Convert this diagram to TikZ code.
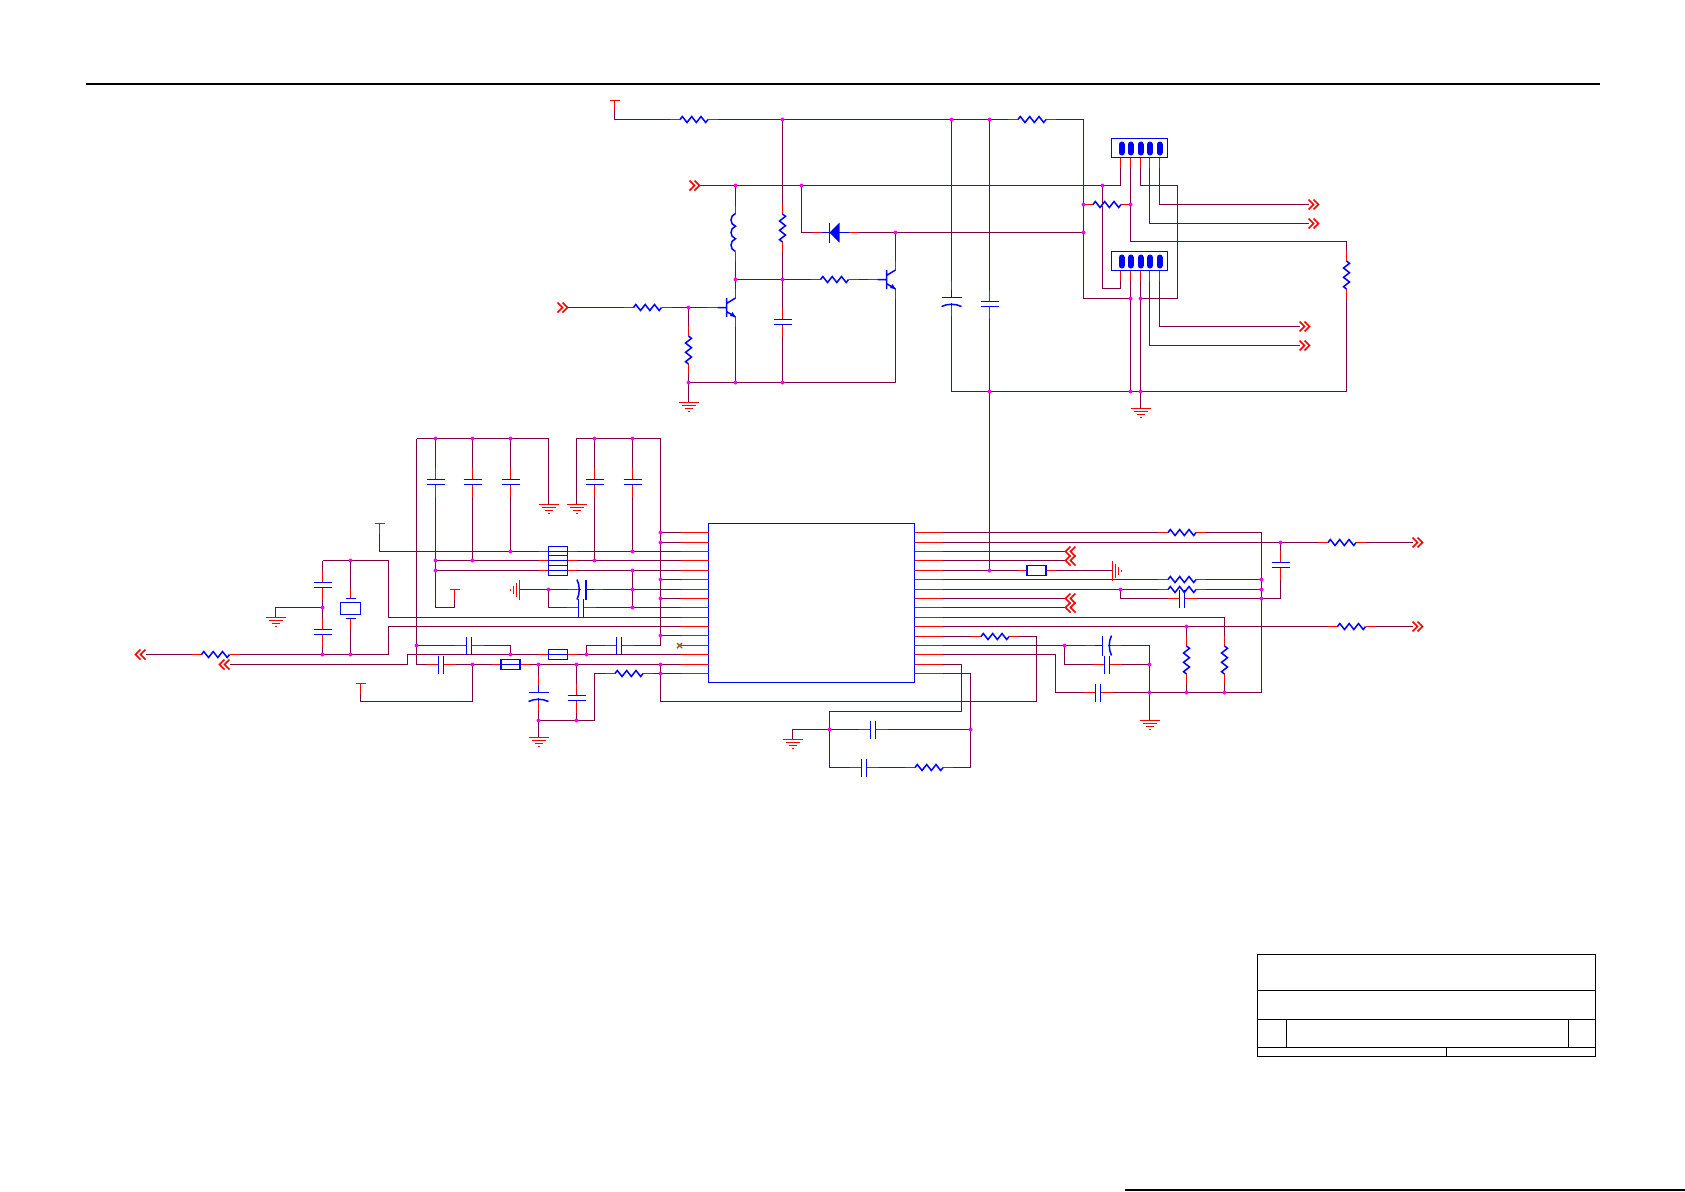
\documentclass[tikz,border=0pt]{standalone}
\definecolor{wirecol}{HTML}{7F0040}
\definecolor{nccol}{HTML}{9A5A20}
\definecolor{dotcol}{HTML}{FF00FF}
\tikzset{
	wire/.style={draw=wirecol, line width=0.72pt, line join=miter},
	stub/.style={draw=red, line width=0.75pt},
	comp/.style={draw=blue, line width=0.75pt},
	frame/.style={draw=black, line width=0.6pt},
	res/.pic={
		\draw[white, line width=1.3pt] (-14,0) -- (14,0);
		\draw[stub] (-24,0) -- (-14,0) (14,0) -- (24,0);
		\draw[comp] (-14,0) -- (-11.7,-3) -- (-7,3) -- (-2.3,-3) -- (2.3,3) -- (7,-3) -- (11.7,3) -- (14,0);
	},
	cap/.pic={
		\draw[white, line width=1.3pt] (-2.5,0) -- (2.5,0);
		\draw[stub] (-14.5,0) -- (-2.5,0) (2.5,0) -- (14.5,0);
		\draw[comp] (-2.5,-9) -- (-2.5,9) (2.5,-9) -- (2.5,9);
	},
	polcap/.pic={
		\draw[white, line width=1.3pt] (-3,0) -- (2,0);
		\draw[stub] (-20,0) -- (-11,0) (5,0) -- (15,0);
		\draw[comp] (-11,0) -- (-3,0) (-3,-10) -- (-3,10) (2,0) -- (5,0);
		\draw[comp] (6,-10) .. controls (3,-4) and (3,4) .. (6,10);
	},
	fuse/.pic={
		\draw[stub] (-19,0) -- (-9.5,0) (9.5,0) -- (19,0);
		\draw[comp, fill=white] (-9.5,-5) rectangle (9.5,5);
		\draw[comp] (-9.5,0) -- (9.5,0);
	},
	fuseopen/.pic={
		\draw[stub] (-19,0) -- (-9.5,0) (9.5,0) -- (19,0);
		\draw[comp, fill=white] (-9.5,-5) rectangle (9.5,5);
	},
	npn/.pic={
		\draw[white, line width=1.3pt] (9,-9.5) -- (9,9.5) (-9,0) -- (0,0);
		\draw[stub] (-19,0) -- (-9,0) (9,-9.5) -- (9,-19) (9,9.5) -- (9,19);
		\draw[comp] (-9,0) -- (0,0) (0,-9.5) -- (0,9.5) (0,-4) -- (9,-9.5) (0,4) -- (9,9.5);
		\fill[blue] (9,9.5) -- (3.5,8.5) -- (6,4.5) -- cycle;
	},
	diode/.pic={
		\draw[white, line width=1.3pt] (-13,0) -- (14,0);
		\draw[stub] (-22,0) -- (-13,0) (14,0) -- (24,0);
		\draw[comp] (-13,0) -- (14,0) (-5,-10) -- (-5,10);
		\fill[blue] (-5,0) -- (5,-10) -- (5,10) -- cycle;
	},
	coil/.pic={
		\draw[white, line width=1.3pt] (0,-19) -- (0,19);
		\draw[stub] (0,-27) -- (0,-19) (0,19) -- (0,28);
		\draw[comp] (0,-19) .. controls (-6,-17) and (-6,-8) .. (0,-6.3) .. controls (-6,-4) and (-6,4) .. (0,6.3) .. controls (-6,8) and (-6,17) .. (0,19);
	},
	xtal/.pic={
		\draw[white, line width=1.3pt] (0,-10) -- (0,10);
		\draw[stub] (0,-20) -- (0,-10) (0,10) -- (0,20);
		\draw[comp] (-5,-10) -- (5,-10) (-5,10) -- (5,10);
		\draw[comp] (-10,-6) rectangle (10,6);
	},
	earth/.pic={
		\draw[stub] (-10,0) -- (10,0) (-7,3) -- (7,3) (-4,6) -- (4,6) (-1,9) -- (1,9);
	},
	vcc/.pic={
		\draw[stub] (-5,0) -- (5,0) (0,0) -- (0,10);
	},
	chev/.pic={
		\draw[stub] (0,-5) -- (5,0) -- (0,5) (5,-5) -- (10,0) -- (5,5);
	},
	header/.pic={
		\draw[comp] (-28,-9.5) rectangle (28,9.5);
		\foreach \px in {-18,-9,1,10.5,20}
			\draw[blue, line width=3pt, line cap=round] (\px,-3.5) -- (\px,4.5);
		\foreach \px in {-19,-9,1,10,20}
			\draw[stub] (\px,9.5) -- (\px,19.5);
	},
}
\begin{document}
\begin{tikzpicture}[x=0.5pt, y=-0.5pt]
	\useasboundingbox (0,0) rectangle (1685,1191);
	\begin{scope}[shift={(0.5,0.5)}]
	% page rules and title block
	\draw[black, line width=1pt] (85,83) -- (1599,83);
	\draw[black, line width=0.8pt] (1124,1189.5) -- (1685,1189.5);
	\draw[frame] (1257,954) rectangle (1595,1056);
	\draw[frame] (1257,990) -- (1595,990) (1257,1019) -- (1595,1019) (1257,1047) -- (1595,1047);
	\draw[frame] (1286,1019) -- (1286,1047) (1568,1019) -- (1568,1047) (1446,1047) -- (1446,1056);

	% switcher section
	\draw[wire] (614,110) -- (614,119) -- (1083,119) -- (1083,298) -- (1130,298);
	\draw[wire] (782,119) -- (782,382);
	\draw[wire] (951,119) -- (951,391) -- (1346,391) -- (1346,241) -- (1130,241) -- (1130,157);
	\draw[wire] (989,119) -- (989,570);
	\draw[wire] (698,185) -- (1120,185) -- (1120,157);
	\draw[wire] (735,185) -- (735,382);
	\draw[wire] (801,185) -- (801,232) -- (1083,232);
	\draw[wire] (895,232) -- (895,382) -- (688,382) -- (688,402);
	\draw[wire] (688,307) -- (688,382);
	\draw[wire] (735,279) -- (886,279);
	\draw[wire] (567,307) -- (726,307);
	\draw[wire] (1102,185) -- (1102,288) -- (1120,288) -- (1120,269);
	\draw[wire] (1083,204) -- (1130,204);
	\draw[wire] (1140,157) -- (1140,185) -- (1177,185) -- (1177,298) -- (1140,298);
	\draw[wire] (1140,269) -- (1140,408);
	\draw[wire] (1130,269) -- (1130,391);
	\draw[wire] (1149,157) -- (1149,223) -- (1308,223);
	\draw[wire] (1159,157) -- (1159,204) -- (1308,204);
	\draw[wire] (1149,269) -- (1149,345) -- (1299,345);
	\draw[wire] (1159,269) -- (1159,326) -- (1299,326);

	% left of the chip
	\draw[wire] (416,438) -- (416,664);
	\draw[wire] (416,438) -- (548,438) -- (548,504);
	\draw[wire] (435,438) -- (435,607) -- (454,607) -- (454,599);
	\draw[wire] (472,438) -- (472,560);
	\draw[wire] (510,438) -- (510,551);
	\draw[wire] (576,504) -- (576,438) -- (660,438) -- (660,645) -- (586,645) -- (586,654);
	\draw[wire] (594,438) -- (594,560);
	\draw[wire] (632,438) -- (632,551);
	\draw[wire] (632,570) -- (632,607);
	\foreach \y in {532,542,579,598,635}
		\draw[wire] (660,\y) -- (680,\y);
	\draw[wire] (379,533) -- (379,551) -- (680,551);
	\draw[wire] (435,560) -- (680,560);
	\draw[wire] (435,570) -- (680,570);
	\draw[wire] (519,589) -- (680,589);
	\draw[wire] (548,589) -- (548,607) -- (680,607);
	\draw[wire] (322,560) -- (388,560) -- (388,617) -- (680,617);
	\draw[wire] (145,654) -- (388,654) -- (388,626) -- (680,626);
	\draw[wire] (229,664) -- (407,664) -- (407,654) -- (680,654);
	\draw[wire] (416,645) -- (510,645) -- (510,654);
	\draw[wire] (416,664) -- (680,664);
	\draw[wire] (472,664) -- (472,701) -- (360,701) -- (360,693);
	\draw[wire] (538,664) -- (538,737);
	\draw[wire] (538,720) -- (594,720) -- (594,673) -- (680,673);
	\draw[wire] (576,664) -- (576,720);
	\draw[wire] (660,664) -- (660,701) -- (1036,701) -- (1036,636) -- (942,636);
	\draw[wire] (322,560) -- (322,654);
	\draw[wire] (350,560) -- (350,654);
	\draw[wire] (322,607) -- (275,607) -- (275,617);

	% right of the chip
	\draw[wire] (942,532) -- (1261,532) -- (1261,692);
	\draw[wire] (942,542) -- (1412,542);
	\draw[wire] (1280,542) -- (1280,598) -- (1120,598) -- (1120,589);
	\foreach \y in {551,560,598,607}
		\draw[wire] (942,\y) -- (1065,\y);
	\draw[wire] (942,570) -- (1112,570);
	\draw[wire] (942,579) -- (1261,579);
	\draw[wire] (942,589) -- (1261,589);
	\draw[wire] (942,617) -- (1224,617) -- (1224,692);
	\draw[wire] (942,626) -- (1412,626);
	\draw[wire] (1186,626) -- (1186,692);
	\draw[wire] (1055,692) -- (1261,692);
	\draw[wire] (942,645) -- (1149,645) -- (1149,720);
	\draw[wire] (1064,645) -- (1064,664) -- (1149,664);
	\draw[wire] (942,654) -- (1055,654) -- (1055,692);
	\draw[wire] (942,664) -- (961,664) -- (961,711) -- (829,711) -- (829,767) -- (970,767) -- (970,673) -- (942,673);
	\draw[wire] (792,739) -- (792,729) -- (970,729);

	% chip
	\draw[comp, line width=0.85pt] (708,523) rectangle (914,682);
	\foreach \y in {532,542,551,560,570,579,589,598,607,617,626,635,645,654,664,673}
		\draw[stub] (680,\y) -- (708,\y);
	\foreach \y in {532,542,551,560,570,579,589,598,607,617,626,636,645,654,664,673}
		\draw[stub] (914,\y) -- (942,\y);
	\draw[nccol, line width=0.7pt] (676.5,642.5) -- (681.5,647.5) (676.5,647.5) -- (681.5,642.5);

	% parts
	\foreach \x/\y in {693.5/119, 1031.5/119, 834/279, 647/307, 1106.5/204, 215/654, 1181.5/532, 1181.5/579, 1181.5/589, 1341.5/542, 1351/626, 628.5/673, 994.5/636, 928.5/767}
		\pic at (\x,\y) {res};
	\foreach \x/\y in {782/227.5, 688/349.5, 1346/274.5, 1186/659.5, 1224/659.5}
		\pic[rotate=90] at (\x,\y) {res};
	\foreach \x/\y in {782/321.5, 989/303.5, 435/481.5, 472/481.5, 510/481.5, 594/481.5, 632/481.5, 322/584.5, 322/631.5, 576/697.5, 1280/564.5}
		\pic[rotate=90] at (\x,\y) {cap};
	\foreach \x/\y in {580.5/607, 468.5/645, 440.5/664, 618.5/645, 1181.5/598, 1106.5/664, 1097.5/692, 872.5/729, 863.5/767}
		\pic at (\x,\y) {cap};
	\foreach \x/\y in {951/300, 538/695}
		\pic[rotate=-90] at (\x,\y) {polcap};
	\pic[rotate=180] at (582.5,589) {polcap};
	\pic at (1105,645) {polcap};
	\foreach \x/\y in {557.5/551, 557.5/560, 557.5/570, 557.5/654, 510/664}
		\pic at (\x,\y) {fuse};
	\pic at (1036,570) {fuseopen};
	\pic at (726,307) {npn};
	\pic at (886,279) {npn};
	\pic at (834,232) {diode};
	\pic at (735,232) {coil};
	\pic at (350,608) {xtal};
	\pic at (1139,147.5) {header};
	\pic at (1139,260.5) {header};

	% power, ground and off-sheet marks
	\foreach \x/\y in {688/402, 548/504, 576/504, 275/617, 538/737, 792/739, 1149/720, 1140/408}
		\pic at (\x,\y) {earth};
	\pic[rotate=90] at (1112,570) {earth};
	\pic[rotate=-90] at (519,589) {earth};
	\foreach \x/\y in {614/100, 379/523, 454/589, 360/683}
		\pic at (\x,\y) {vcc};
	\foreach \x/\y in {689/185, 557/307, 1308/204, 1308/223, 1299/326, 1299/345, 1412/542, 1412/626}
		\pic at (\x,\y) {chev};
	\foreach \x/\y in {145/654, 229/664, 1075/551, 1075/560, 1075/598, 1075/607}
		\pic[rotate=180] at (\x,\y) {chev};

	% junctions
	\foreach \x/\y in {782/119, 951/119, 989/119, 735/185, 801/185, 1102/185, 1083/204, 1130/204, 895/232, 1083/232, 735/279, 782/279, 688/307, 688/382, 735/382, 782/382, 1130/298, 1140/298, 989/391, 1130/391, 1140/391, 435/438, 472/438, 510/438, 594/438, 632/438, 660/532, 660/542, 510/551, 632/551, 435/560, 472/560, 594/560, 435/570, 632/570, 660/579, 548/589, 632/589, 660/598, 632/607, 660/635, 350/560, 322/607, 322/654, 350/654, 416/645, 510/654, 586/654, 472/664, 538/664, 576/664, 660/664, 660/673, 538/720, 576/720, 829/729, 970/729, 989/570, 1120/589, 1261/579, 1261/589, 1261/598, 1280/542, 1186/626, 1064/645, 1149/664, 1149/692, 1186/692, 1224/692}
		\fill[dotcol] (\x,\y) circle (1pt);
	\end{scope}
\end{tikzpicture}
\end{document}
